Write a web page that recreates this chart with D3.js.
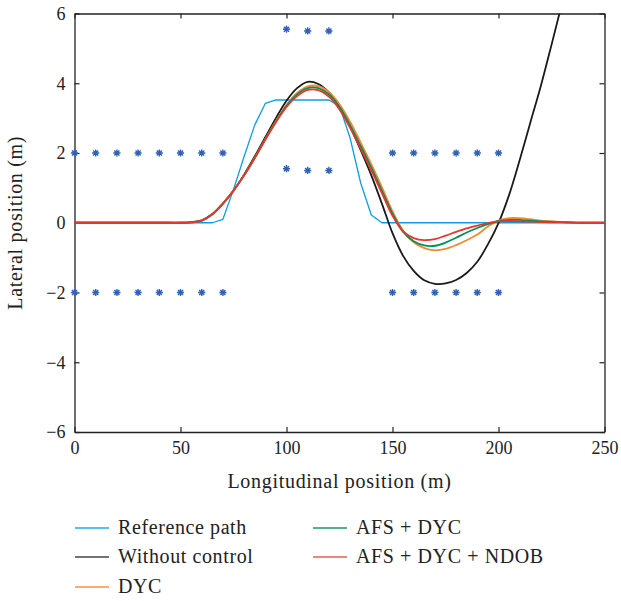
<!DOCTYPE html>
<html><head><meta charset="utf-8">
<script src="https://cdn.jsdelivr.net/npm/d3@7/dist/d3.min.js"></script>
<style>body{margin:0;background:#fff}svg{display:block}svg text{font-family:"Liberation Serif","DejaVu Serif",serif !important}</style>
</head><body>
<svg id="c" width="621" height="601"></svg>
<script>
const xGrid = [0,5,10,15,20,25,30,35,40,45,50,55,60,65,70,75,80,85,90,95,100,105,110,115,120,125,130,135,140,145,150,155,160,165,170,175,180,185,190,195,200,205,210,215,220,225,230,235,240,245,250];
const refPath = [0,0,0,0,0,0,0,0,0,0,0,0,0,0,0.1,0.95,1.9,2.8,3.42,3.52,3.52,3.52,3.52,3.52,3.52,3.34,2.43,1.14,0.22,0,0,0,0,0,0,0,0,0,0,0,0,0,0,0,0,0,0,0,0,0,0];
const withoutControl = [0,0,0,0,0,0,0,0,0,0,0,0.02,0.07,0.25,0.55,0.92,1.38,1.9,2.45,3.0,3.5,3.86,4.04,3.98,3.74,3.32,2.76,2.08,1.36,0.55,-0.3,-0.95,-1.38,-1.65,-1.75,-1.74,-1.64,-1.44,-1.12,-0.62,-0.01,0.8,1.8,2.87,3.93,5.1,6.3,7.5,8.7,9.9,11.1];
const dyc = [0,0,0,0,0,0,0,0,0,0,0,0.01,0.06,0.24,0.55,0.92,1.36,1.86,2.4,2.92,3.38,3.72,3.91,3.92,3.75,3.4,2.9,2.3,1.68,1.02,0.33,-0.22,-0.56,-0.73,-0.79,-0.75,-0.64,-0.5,-0.34,-0.11,0.06,0.13,0.13,0.1,0.06,0.04,0.02,0.01,0,0,0];
const afsDyc = [0,0,0,0,0,0,0,0,0,0,0,0.01,0.06,0.24,0.55,0.92,1.36,1.86,2.39,2.9,3.35,3.68,3.86,3.86,3.68,3.32,2.8,2.2,1.58,0.92,0.26,-0.26,-0.53,-0.65,-0.66,-0.57,-0.43,-0.28,-0.15,-0.04,0.05,0.08,0.08,0.06,0.04,0.03,0.02,0.01,0,0,0];
const afsDycNdob = [0,0,0,0,0,0,0,0,0,0,0,0.01,0.06,0.24,0.55,0.92,1.36,1.85,2.38,2.88,3.32,3.63,3.81,3.8,3.62,3.25,2.72,2.12,1.5,0.85,0.2,-0.25,-0.44,-0.5,-0.47,-0.37,-0.26,-0.16,-0.08,-0.01,0.04,0.05,0.04,0.03,0.02,0.01,0.01,0,0,0,0];
const coneX = [0,10,20,30,40,50,60,70,0,10,20,30,40,50,60,70,100,110,120,100,110,120,150,160,170,180,190,200,150,160,170,180,190,200];
const coneY = [2,2,2,2,2,2,2,2,-2,-2,-2,-2,-2,-2,-2,-2,5.55,5.5,5.5,1.55,1.5,1.5,2,2,2,2,2,2,-2,-2,-2,-2,-2,-2];
const xTicks = [0,50,100,150,200,250];
const yTicks = [-6,-4,-2,0,2,4,6];
const seriesNames = ["Reference path","Without control","DYC","AFS + DYC","AFS + DYC + NDOB"];
const seriesColors = ["#0c9ee0","#1a1a1a","#f08a32","#00915a","#e8352e"];
const legendColors = ["#25a8e8","#444444","#f29050","#1a9a60","#f05a50"];

const svg = d3.select("#c");
const L=74.5, R=604.5, T=13.5, B=432;
const x = d3.scaleLinear().domain([0,250]).range([L,R]);
const y = d3.scaleLinear().domain([-6,6]).range([B,T]);

svg.append("defs").append("clipPath").attr("id","clip")
  .append("rect").attr("x",L).attr("y",T).attr("width",R-L).attr("height",B-T);

const ax = svg.append("g");
ax.append("g").attr("transform",`translate(0,${B})`)
  .call(d3.axisBottom(x).tickValues(xTicks).tickSizeInner(-5).tickSizeOuter(0).tickPadding(9));
ax.append("g").attr("transform",`translate(0,${T})`)
  .call(d3.axisTop(x).tickValues(xTicks).tickSizeInner(-5).tickSizeOuter(0).tickFormat(""));
ax.append("g").attr("transform",`translate(${L},0)`)
  .call(d3.axisLeft(y).tickValues(yTicks).tickSizeInner(-5).tickSizeOuter(0).tickPadding(9).tickFormat(d=>d<0?"\u2212"+Math.abs(d):d));
ax.append("g").attr("transform",`translate(${R},0)`)
  .call(d3.axisRight(y).tickValues(yTicks).tickSizeInner(-5).tickSizeOuter(0).tickFormat(""));
ax.selectAll("g").attr("font-size",18);
ax.selectAll(".domain").attr("stroke","#222").attr("stroke-width",1.3);
ax.selectAll(".tick line").attr("stroke","#222").attr("stroke-width",1.2);
ax.selectAll(".tick text").attr("fill","#222");

const plot = svg.append("g").attr("clip-path","url(#clip)");
const allSeries = [refPath, withoutControl, dyc, afsDyc, afsDycNdob];
allSeries.forEach((ys,i)=>{
  const line = d3.line().x((d,j)=>x(xGrid[j])).y(d=>y(d))
    .curve(i===0 ? d3.curveLinear : d3.curveCatmullRom.alpha(0.5));
  plot.append("path").datum(ys).attr("d",line).attr("fill","none")
    .attr("stroke",seriesColors[i]).attr("stroke-width",i===0?1.3:1.8)
    .attr("stroke-linejoin","round");
});

const star = r => {
  const a = r*0.7071;
  return `M${-r},0L${r},0M0,${-r}L0,${r}M${-a},${-a}L${a},${a}M${-a},${a}L${a},${-a}`;
};
svg.append("g").selectAll("path").data(coneX).join("path")
  .attr("transform",(d,i)=>`translate(${x(d)},${y(coneY[i])})`)
  .attr("d",star(3.6)).attr("stroke","#2e62b8").attr("stroke-width",1.4).attr("fill","none");

svg.append("text").attr("x",(L+R)/2).attr("y",488).attr("text-anchor","middle")
  .attr("font-size",20).attr("letter-spacing",0.7).attr("fill","#222").text("Longitudinal position (m)");
svg.append("text").attr("transform",`translate(22,${(T+B)/2}) rotate(-90)`).attr("text-anchor","middle")
  .attr("font-size",20).attr("letter-spacing",0.7).attr("fill","#222").text("Lateral position (m)");

const legPos = [[74,528],[74,557],[74,587],[312,528],[312,557]];
const lg = svg.append("g");
seriesNames.forEach((n,i)=>{
  const [lx,ly] = legPos[i];
  lg.append("line").attr("x1",lx+1).attr("x2",lx+35).attr("y1",ly).attr("y2",ly)
    .attr("stroke",legendColors[i]).attr("stroke-width",1.3);
  lg.append("text").attr("x",lx+44).attr("y",ly+6)
    .attr("font-size",20).attr("letter-spacing",0.6).attr("fill","#222").text(n);
});
</script>
</body></html>
